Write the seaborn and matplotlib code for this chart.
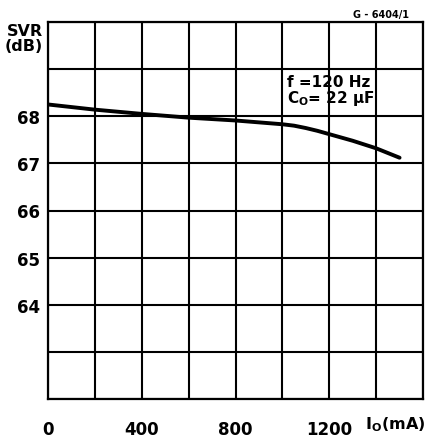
import matplotlib
matplotlib.use("Agg")
import matplotlib.pyplot as plt
import seaborn as sns
import pandas as pd

sns.set_style("white")
plt.rcParams['font.family'] = ['DejaVu Sans']
plt.rcParams['text.color'] = 'black'
plt.rcParams['xtick.color'] = 'black'
plt.rcParams['ytick.color'] = 'black'

# curve
io_ma = [0, 200, 400, 600, 800, 1000, 1050, 1100, 1150, 1200, 1300, 1400, 1500]
svr_db = [68.25, 68.14, 68.05, 67.97, 67.91, 67.83, 67.8, 67.75, 67.69, 67.62, 67.48, 67.32, 67.12]

x_ticks = [0, 200, 400, 600, 800, 1000, 1200, 1400, 1600]
x_labels = ['0', '', '400', '', '800', '', '1200', '', '']
y_ticks = [62, 63, 64, 65, 66, 67, 68, 69, 70]
y_labels = ['', '', '64', '65', '66', '67', '68', '', '']

df = pd.DataFrame({'io': io_ma, 'svr': svr_db})

fig = plt.figure(figsize=(4.28, 4.39), dpi=100)
ax = fig.add_axes([48 / 428, 1 - 400 / 439, 375 / 428, 377 / 439])

sns.lineplot(data=df, x='io', y='svr', color='black', linewidth=2.8, ax=ax)

ax.set_xlim(0, 1600)
ax.set_ylim(62, 70)
ax.set_xticks(x_ticks)
ax.set_xticklabels(x_labels, fontsize=12, fontweight='bold')
ax.set_yticks(y_ticks)
ax.set_yticklabels(y_labels, fontsize=12, fontweight='bold')
ax.tick_params(axis='both', length=0)
ax.tick_params(axis='x', pad=15)
ax.tick_params(axis='y', pad=6)
ax.grid(True, color='black', linewidth=1.5)
ax.set_axisbelow(True)
for s in ax.spines.values():
    s.set_color('black')
    s.set_linewidth(1.6)
ax.set_xlabel('')
ax.set_ylabel('')

# annotation inside the grid
ax.text(1020, 68.9, 'f =120 Hz\nC$_{\\mathbf{O}}$= 22 µF', fontsize=11,
        fontweight='bold', va='top', ha='left', linespacing=0.95)

# axis labels placed like the datasheet
fig.text(43 / 428, 1 - 24 / 439, 'SVR\n(dB)', fontsize=11.5, fontweight='bold',
         ha='right', va='top', linespacing=1.0)
fig.text(425 / 428, 1 - 425 / 439, 'I$_{\\mathbf{O}}$(mA)', fontsize=11.5,
         fontweight='bold', ha='right', va='center')
fig.text(409 / 428, 1 - 15 / 439, 'G - 6404/1', fontsize=7, fontweight='bold',
         ha='right', va='center')

fig.savefig('out.png', dpi=100)
